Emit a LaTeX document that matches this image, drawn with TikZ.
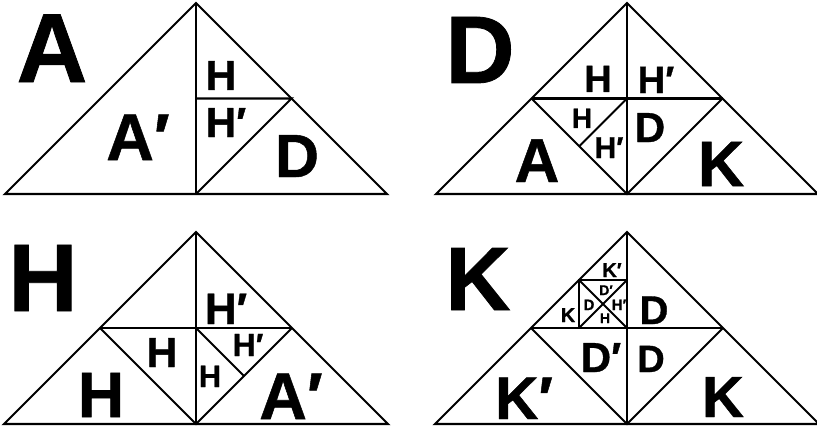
\documentclass[tikz,border=0pt]{standalone}
\usepackage{fontspec}
\newfontfamily\lblfont[FakeBold=0.8]{Liberation Sans Bold}
\tikzset{
  edge/.style={line width=2.1pt},
  lbl/.style={inner sep=0pt, anchor=base, text depth=0pt, font=\lblfont\fontsize{#1}{#1}\selectfont}
}
\begin{document}
\begin{tikzpicture}[x=1pt, y=-1pt]
	\useasboundingbox (0,0) rectangle (817,428);
	% A
	\begin{scope}[shift={(196,3)}]
		\draw[edge] (0,0) -- (191,191) -- (-191,191) -- cycle;
		\draw[edge] (0,0) -- (0,191);
		\draw[edge] (0,95.5) -- (95.5,95.5) -- (0,191);
		\node[lbl=98] (nA) at (-144,79) {A};
		\node[lbl=66] (nAa) at (-58,157) {A′};
		\node[lbl=42] (nAb) at (25,87) {H};
		\node[lbl=42] (nAc) at (30,134) {H′};
		\node[lbl=61] (nAd) at (101,174) {D};
	\end{scope}
	% D
	\begin{scope}[shift={(627,3)}]
		\draw[edge] (0,0) -- (191,191) -- (-191,191) -- cycle;
		\draw[edge] (0,0) -- (0,191);
		\draw[edge] (-95.5,95.5) -- (95.5,95.5);
		\draw[edge] (-95.5,95.5) -- (0,191) -- (95.5,95.5);
		\draw[edge] (0,95.5) -- (-47.75,143.25);
		\node[lbl=96] (nD) at (-147,80) {D};
		\node[lbl=38] (nDa) at (-29,89) {H};
		\node[lbl=38] (nDb) at (29,90) {H′};
		\node[lbl=28] (nDc) at (-45,125) {H};
		\node[lbl=30] (nDd) at (-18,155) {H′};
		\node[lbl=42] (nDe) at (23,139) {D};
		\node[lbl=62] (nDf) at (-90,179) {A};
		\node[lbl=64] (nDg) at (94,183) {K};
	\end{scope}
	% H
	\begin{scope}[shift={(196,232)}]
		\draw[edge] (0,0) -- (192,192) -- (-192,192) -- cycle;
		\draw[edge] (0,0) -- (0,192);
		\draw[edge] (-96,96) -- (96,96);
		\draw[edge] (-96,96) -- (0,192) -- (96,96);
		\draw[edge] (0,96) -- (48,144);
		\node[lbl=96] (nH) at (-153,79) {H};
		\node[lbl=44] (nHa) at (30,92) {H′};
		\node[lbl=42] (nHb) at (-34,135) {H};
		\node[lbl=32] (nHc) at (52,124) {H′};
		\node[lbl=31] (nHd) at (14,155) {H};
		\node[lbl=64] (nHe) at (-95,185) {H};
		\node[lbl=66] (nHf) at (95,187) {A′};
	\end{scope}
	% K
	\begin{scope}[shift={(627,232)}]
		\draw[edge] (0,0) -- (192,192) -- (-192,192) -- cycle;
		\draw[edge] (0,0) -- (0,192);
		\draw[edge] (-96,96) -- (96,96);
		\draw[edge] (-96,96) -- (0,192) -- (96,96);
		\draw[edge] (-48,48) rectangle (0,96);
		\draw[edge] (-48,48) -- (0,96) (0,48) -- (-48,96);
		\node[lbl=90] (nK) at (-149,78) {K};
		\node[lbl=20] (nKa) at (-15,45) {K′};
		\node[lbl=14] (nKb) at (-21,63) {D′};
		\node[lbl=15] (nKc) at (-38,78) {D};
		\node[lbl=15] (nKd) at (-8,78) {H′};
		\node[lbl=14] (nKe) at (-22,91) {H};
		\node[lbl=20] (nKf) at (-59,90) {K};
		\node[lbl=40] (nKg) at (27,92) {D};
		\node[lbl=42] (nKh) at (-26,140) {D′};
		\node[lbl=38] (nKi) at (24,140) {D};
		\node[lbl=60] (nKj) at (-103,187) {K′};
		\node[lbl=58] (nKk) at (96,185) {K};
	\end{scope}
\end{tikzpicture}
\end{document}
